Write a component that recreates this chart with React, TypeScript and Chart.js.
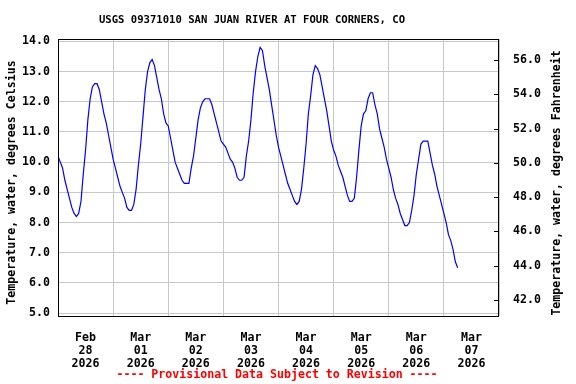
import React, { useEffect, useRef } from "react";
import { Chart, registerables } from "chart.js";

Chart.register(...registerables);

const TITLE = "USGS 09371010 SAN JUAN RIVER AT FOUR CORNERS, CO";
const FOOTER = "---- Provisional Data Subject to Revision ----";
const Y_TITLE_C = "Temperature, water, degrees Celsius";
const Y_TITLE_F = "Temperature, water, degrees Fahrenheit";

// Hourly water temperature (deg C), each array starts at 00:00 of that day
const feb28 = [10.2, 10.0, 9.8, 9.4, 9.1, 8.8, 8.5, 8.3, 8.2, 8.3, 8.7, 9.6, 10.4, 11.4, 12.1, 12.5, 12.6, 12.6, 12.4, 12.0, 11.6, 11.3, 10.9, 10.5];
const mar01 = [10.1, 9.8, 9.5, 9.2, 9.0, 8.8, 8.5, 8.4, 8.4, 8.6, 9.1, 9.9, 10.6, 11.5, 12.4, 13.0, 13.3, 13.4, 13.2, 12.8, 12.4, 12.1, 11.6, 11.3];
const mar02 = [11.2, 10.8, 10.4, 10.0, 9.8, 9.6, 9.4, 9.3, 9.3, 9.3, 9.8, 10.2, 10.8, 11.4, 11.8, 12.0, 12.1, 12.1, 12.1, 11.9, 11.6, 11.3, 11.0, 10.7];
const mar03 = [10.6, 10.5, 10.3, 10.1, 10.0, 9.8, 9.5, 9.4, 9.4, 9.5, 10.2, 10.7, 11.4, 12.3, 13.0, 13.5, 13.8, 13.7, 13.2, 12.8, 12.4, 11.9, 11.4, 10.9];
const mar04 = [10.5, 10.2, 9.9, 9.6, 9.3, 9.1, 8.9, 8.7, 8.6, 8.7, 9.1, 9.8, 10.6, 11.6, 12.2, 12.9, 13.2, 13.1, 12.9, 12.5, 12.1, 11.7, 11.2, 10.7];
const mar05 = [10.4, 10.2, 9.9, 9.7, 9.5, 9.2, 8.9, 8.7, 8.7, 8.8, 9.5, 10.4, 11.2, 11.6, 11.7, 12.1, 12.3, 12.3, 11.9, 11.6, 11.1, 10.8, 10.5, 10.1];
const mar06 = [9.8, 9.5, 9.1, 8.8, 8.6, 8.3, 8.1, 7.9, 7.9, 8.0, 8.4, 8.9, 9.6, 10.1, 10.6, 10.7, 10.7, 10.7, 10.3, 9.9, 9.6, 9.2, 8.9, 8.6];
const mar07 = [8.3, 8.0, 7.6, 7.4, 7.1, 6.7, 6.5];

// Axis ticks
const celsiusTicks = [5, 6, 7, 8, 9, 10, 11, 12, 13, 14];
const fahrenheitTicks = [42, 44, 46, 48, 50, 52, 54, 56];
const dayBoundaryHours = [0, 24, 48, 72, 96, 120, 144, 168, 192];
const dayLabelHours = [12, 36, 60, 84, 108, 132, 156, 180];
const dayMonths = ["Feb", "Mar", "Mar", "Mar", "Mar", "Mar", "Mar", "Mar"];
const dayNumbers = ["28", "01", "02", "03", "04", "05", "06", "07"];
const dayYears = ["2026", "2026", "2026", "2026", "2026", "2026", "2026", "2026"];

const FONT_FAMILY = '"DejaVu Sans Mono", "Liberation Mono", monospace';
const FONT_SIZE = 11.6;
const TITLE_SIZE = 10.6;
const GRID = "#c8c8c8";

export default function App() {
  const canvasRef = useRef<HTMLCanvasElement | null>(null);

  useEffect(() => {
    const canvas = canvasRef.current;
    if (!canvas) return;

    const temps = [...feb28, ...mar01, ...mar02, ...mar03, ...mar04, ...mar05, ...mar06, ...mar07];
    const points = temps.map((v, i) => ({ x: i, y: v }));
    const font = { family: FONT_FAMILY, size: FONT_SIZE, weight: "bold" as const, lineHeight: 13 / FONT_SIZE };

    const framePlugin = {
      id: "usgsFrame",
      afterDraw(chart: any) {
        const { ctx, chartArea } = chart;
        const { left, right, top, bottom } = chartArea;
        ctx.save();
        // frame
        ctx.strokeStyle = "#000";
        ctx.lineWidth = 1;
        ctx.strokeRect(Math.round(left) + 0.5, Math.round(top) + 0.5, Math.round(right) - Math.round(left) - 1, Math.round(bottom) - Math.round(top));
        // inner ticks of the Fahrenheit axis
        const y2 = chart.scales.y2;
        ctx.beginPath();
        for (const t of y2.ticks) {
          const py = Math.round(y2.getPixelForValue(t.value)) + 0.5;
          ctx.moveTo(Math.round(right) - 5, py);
          ctx.lineTo(Math.round(right), py);
        }
        ctx.stroke();
        // texts
        ctx.textAlign = "center";
        ctx.textBaseline = "middle";
        ctx.fillStyle = "#000";
        ctx.font = `bold ${TITLE_SIZE}px ${FONT_FAMILY}`;
        ctx.fillText(TITLE, 252, 20);
        ctx.font = `bold ${FONT_SIZE}px ${FONT_FAMILY}`;
        ctx.fillStyle = "#ff0000";
        ctx.fillText(FOOTER, 277, 375);
        ctx.fillStyle = "#000";
        ctx.save();
        ctx.translate(12, 182.5);
        ctx.rotate(-Math.PI / 2);
        ctx.fillText(Y_TITLE_C, 0, 0);
        ctx.restore();
        ctx.save();
        ctx.translate(557, 183);
        ctx.rotate(-Math.PI / 2);
        ctx.fillText(Y_TITLE_F, 0, 0);
        ctx.restore();
        ctx.restore();
      },
    };

    const chart = new Chart(canvas, {
      type: "line",
      data: {
        datasets: [
          {
            data: points,
            borderColor: "#0000ff",
            borderWidth: 1.2,
            pointRadius: 0,
            tension: 0,
            xAxisID: "x",
            yAxisID: "y",
          },
        ],
      },
      options: {
        animation: false,
        responsive: false,
        devicePixelRatio: 1,
        layout: { padding: { top: 39, left: 0, right: 0, bottom: 0 } },
        plugins: {
          legend: { display: false },
          tooltip: { enabled: false },
          title: { display: false },
        },
        scales: {
          x: {
            type: "linear",
            position: "bottom",
            min: 0,
            max: 192,
            afterBuildTicks: (s: any) => {
              s.ticks = dayBoundaryHours.map((v) => ({ value: v }));
            },
            afterFit: (s: any) => {
              s.height = 0;
            },
            grid: { color: GRID, lineWidth: 1, drawTicks: false },
            border: { display: false },
            ticks: { display: false },
          },
          xl: {
            type: "linear",
            position: "bottom",
            min: 0,
            max: 192,
            afterBuildTicks: (s: any) => {
              s.ticks = dayLabelHours.map((v) => ({ value: v }));
            },
            afterFit: (s: any) => {
              s.height = 68.5;
            },
            grid: { display: false },
            border: { display: false },
            ticks: {
              callback: (_v: any, i: number) => [dayMonths[i], dayNumbers[i], dayYears[i]],
              font,
              color: "#000",
              padding: 8,
              maxRotation: 0,
              autoSkip: false,
            },
          },
          y: {
            type: "linear",
            position: "left",
            min: 4.92,
            max: 14.08,
            afterBuildTicks: (s: any) => {
              s.ticks = celsiusTicks.map((v) => ({ value: v }));
            },
            afterFit: (s: any) => {
              s.width = 58;
            },
            grid: { color: GRID, lineWidth: 1, drawTicks: false },
            border: { display: false },
            ticks: {
              callback: (v: any) => Number(v).toFixed(1),
              font,
              color: "#000",
              padding: 8,
              autoSkip: false,
            },
          },
          y2: {
            type: "linear",
            position: "right",
            min: 41.08,
            max: 57.23,
            afterBuildTicks: (s: any) => {
              s.ticks = fahrenheitTicks.map((v) => ({ value: v }));
            },
            afterFit: (s: any) => {
              s.width = 77;
            },
            grid: { display: false, drawOnChartArea: false },
            border: { display: false },
            ticks: {
              callback: (v: any) => Number(v).toFixed(1),
              font,
              color: "#000",
              padding: 6,
              autoSkip: false,
            },
          },
        },
      } as any,
      plugins: [framePlugin],
    });

    return () => {
      chart.destroy();
    };
  }, []);

  return (
    <div style={{ position: "absolute", left: 0, top: 0, width: 576, height: 384, background: "#fff" }}>
      <canvas ref={canvasRef} width={576} height={384} style={{ display: "block", width: 576, height: 384 }} />
    </div>
  );
}
